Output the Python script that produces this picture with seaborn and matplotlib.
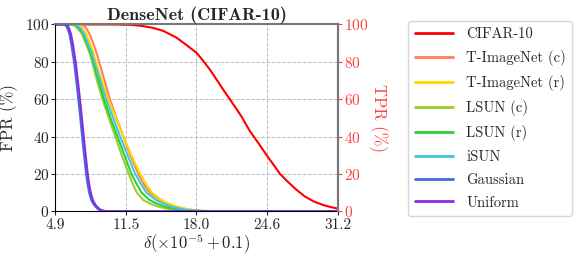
import numpy as np
import pandas as pd
import matplotlib
matplotlib.use("Agg")
import matplotlib.pyplot as plt
import seaborn as sns

# --- data ---
cifar_x = [4.9, 10.5, 12.0, 13.0, 14.0, 15.0, 16.2, 17.0, 18.06, 18.68, 19.4, 20.2, 20.9,
           21.5, 22.2, 23.0, 23.8, 24.67, 25.2, 25.81, 26.5, 27.36, 28.1, 28.9, 29.8, 30.5, 31.2]
cifar_y = [100, 100, 99.8, 99.2, 98.2, 96.5, 92.9, 89.5, 84.8, 80.5, 75, 68, 62,
           57, 51, 43, 36.5, 29.2, 25, 20, 16, 11.4, 8, 5.4, 3.4, 2.3, 1.4]

fpr_levels = [100, 100, 99.5, 98, 95, 90, 85, 80, 70, 60, 50, 40, 30, 20, 15, 10,
              6, 4, 2.5, 1.5, 0.8, 0.3, 0, 0]
timg_c_x = [4.9, 7.2, 7.55, 7.8, 8.1, 8.45, 8.75, 9.0, 9.5, 10.0, 10.6, 11.25, 11.9, 12.64,
            13.1, 13.7, 14.7, 15.4, 16.1, 16.8, 17.5, 18.4, 19.8, 31.2]
timg_r_x = [4.9, 6.9, 7.2, 7.45, 7.8, 8.15, 8.45, 8.7, 9.25, 9.86, 10.55, 11.25, 12.0, 12.8,
            13.3, 13.9, 14.8, 15.5, 16.2, 16.9, 17.6, 18.5, 20.0, 31.2]
isun_x = [4.9, 6.6, 6.95, 7.25, 7.6, 7.95, 8.3, 8.55, 9.1, 9.65, 10.3, 10.95, 11.65, 12.35,
          12.85, 13.4, 14.3, 15.0, 15.7, 16.4, 17.1, 18.0, 19.5, 31.2]
lsun_r_x = [4.9, 6.4, 6.8, 7.1, 7.5, 7.85, 8.2, 8.45, 8.95, 9.45, 10.05, 10.7, 11.35, 12.0,
            12.45, 12.95, 13.7, 14.4, 15.1, 15.8, 16.5, 17.5, 19.0, 31.2]
lsun_c_x = [4.9, 6.3, 6.7, 7.0, 7.4, 7.75, 8.1, 8.35, 8.8, 9.3, 9.9, 10.5, 11.1, 11.75,
            12.1, 12.5, 13.1, 13.8, 14.5, 15.2, 15.9, 16.9, 18.5, 31.2]

noise_levels = [100, 100, 99.5, 98, 95, 90, 85, 80, 70, 60, 50, 40, 30, 20, 15, 10,
                6, 4, 2.5, 1, 0.4, 0.1, 0, 0]
uniform_x = [4.9, 5.9, 6.05, 6.2, 6.38, 6.55, 6.68, 6.82, 7.02, 7.22, 7.4, 7.57, 7.75, 7.94,
             8.06, 8.22, 8.42, 8.6, 8.8, 9.08, 9.35, 9.6, 9.9, 31.2]
gauss_x = [4.9, 5.75, 5.9, 6.05, 6.23, 6.4, 6.53, 6.67, 6.87, 7.07, 7.25, 7.42, 7.6, 7.79,
           7.91, 8.07, 8.27, 8.45, 8.65, 8.93, 9.2, 9.45, 9.75, 31.2]

names = ["CIFAR-10", "T-ImageNet (c)", "T-ImageNet (r)", "LSUN (c)", "LSUN (r)",
         "iSUN", "Gaussian", "Uniform"]
colors = ["#ff0000", "#ff7f50", "#ffd700", "#9acd32", "#32cd32",
          "#40c4e0", "#4169e1", "#8a2be2"]
xticks = [4.9, 11.5, 18.0, 24.6, 31.2]

series = [(cifar_x, cifar_y), (timg_c_x, fpr_levels), (timg_r_x, fpr_levels),
          (lsun_c_x, fpr_levels), (lsun_r_x, fpr_levels), (isun_x, fpr_levels),
          (gauss_x, noise_levels), (uniform_x, noise_levels)]

rows = []
for name, (xs, ys) in zip(names, series):
    for x, y in zip(xs, ys):
        rows.append({"delta": x, "rate": y, "dataset": name})
df = pd.DataFrame(rows)

sns.set_style("white")
plt.rcParams["font.family"] = ["cmr10", "DejaVu Serif"]
plt.rcParams["mathtext.fontset"] = "cm"
plt.rcParams["axes.unicode_minus"] = False
plt.rcParams["axes.formatter.use_mathtext"] = True

fig = plt.figure(figsize=(5.81, 2.60), dpi=100)
ax = fig.add_axes([0.0947, 0.1873, 0.4871, 0.7185])

sns.lineplot(data=df, x="delta", y="rate", hue="dataset", hue_order=names,
             palette=dict(zip(names, colors)), estimator=None, sort=False,
             units="dataset", lw=1.5, ax=ax)

ax.set_xlim(4.9, 31.2)
ax.set_ylim(0, 100)
ax.set_xticks(xticks)
ax.set_xticklabels([f"{t:.1f}" for t in xticks])
ax.set_yticks(range(0, 101, 20))
ax.grid(True, linestyle="--", color="#bbbbbb", lw=0.7)
ax.tick_params(axis="both", labelsize=11, length=3, direction="out", pad=1)
ax.tick_params(axis="x", pad=2)
ax.tick_params(axis="both", which="major", bottom=True, left=True)
ax.set_xlabel(r"$\delta(\times 10^{-5}+0.1)$", fontsize=12, labelpad=0)
ax.set_ylabel("FPR (%)", fontsize=12, labelpad=5)
ax.set_title("DenseNet (CIFAR-10)", fontsize=13, family="cmb10", pad=3)
for s in ["left", "bottom"]:
    ax.spines[s].set_color("black")
for s in ["top", "right"]:
    ax.spines[s].set_color("#777777")
    ax.spines[s].set_linewidth(1.5)

ax2 = ax.twinx()
ax2.set_ylim(0, 100)
ax2.set_yticks(range(0, 101, 20))
ax2.tick_params(axis="y", colors="#ff4040", labelsize=11, length=3, pad=1)
ax2.set_ylabel("TPR (%)", color="#ff4040", fontsize=12, rotation=270, labelpad=14)
for s in ax2.spines.values():
    s.set_visible(False)
ax2.spines["right"].set_visible(True)
ax2.spines["right"].set_color("#777777")
ax2.spines["right"].set_linewidth(1.5)

sns.move_legend(ax, "upper left", bbox_to_anchor=(0.703, 0.92),
                bbox_transform=fig.transFigure, title=None, frameon=True,
                fontsize=10.5, handlelength=2.6, handletextpad=0.9,
                labelspacing=0.62, borderpad=0.45, borderaxespad=0,
                edgecolor="#cccccc", fancybox=True)
for h in ax.get_legend().get_lines():
    h.set_linewidth(2)

fig.savefig("out.png", dpi=100)
